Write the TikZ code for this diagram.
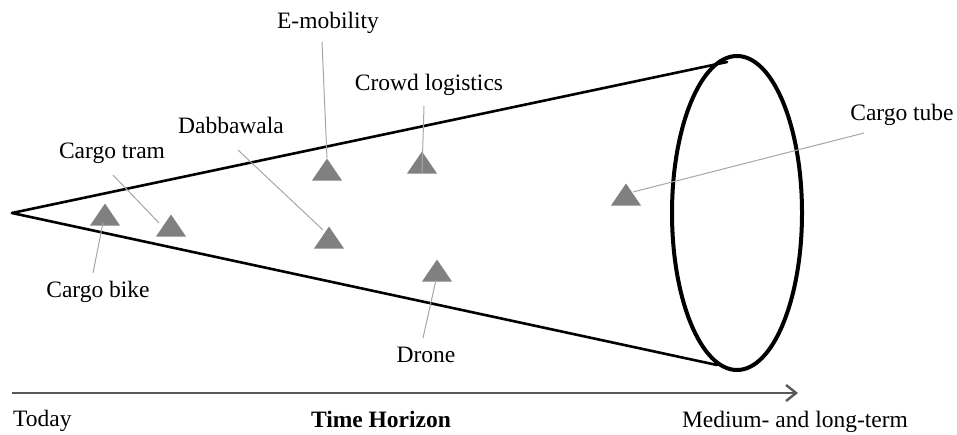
\documentclass[tikz,border=0pt]{standalone}
\usepackage{fontspec}
\setmainfont{Liberation Serif}
\usepackage{tikz}
\usetikzlibrary{arrows.meta, shapes.geometric}
\definecolor{techgray}{HTML}{808080}
\definecolor{leadgray}{HTML}{A6A6A6}
\definecolor{axisgray}{HTML}{595959}

\begin{document}
\begin{tikzpicture}[x=1pt, y=-1pt,
    lbl/.style={font=\fontsize{23.5}{28}\selectfont, inner sep=0pt, anchor=base},
    tech/.style={isosceles triangle, isosceles triangle stretches, shape border rotate=90,
        minimum width=30pt, minimum height=22pt, inner sep=0pt, fill=techgray, draw=none, anchor=apex},
    leader/.style={draw=leadgray, line width=1pt},
    cone/.style={line width=2.6pt, line cap=round, line join=round}]
    \useasboundingbox (0,0) rectangle (957,434);
    % Cone of innovations
    \coordinate (tip) at (12,213);
    \draw[cone] (tip) -- (727,62);
    \draw[cone] (tip) -- (717,365);
    \draw[cone, line width=4pt] (737,213) ellipse [x radius=65pt, y radius=157pt];
    % Triangles (placed by their apex)
    \foreach \n/\x/\y in {biketri/105/203, tramtri/171/214, dabbatri/329/226, emobtri/327/158,
        crowdtri/422/151, tubetri/626/183, dronetri/437/259} {
        \node[tech] (\n) at (\x,\y) {};
    }
    % Labels
    \node[lbl] (emob) at (328,28) {E-mobility};
    \node[lbl] (crowd) at (429,90) {Crowd logistics};
    \node[lbl] (dabba) at (231,133) {Dabbawala};
    \node[lbl] (tram) at (112,158) {Cargo tram};
    \node[lbl] (bike) at (98,297) {Cargo bike};
    \node[lbl] (drone) at (426,362) {Drone};
    \node[lbl] (tube) at (902,120) {Cargo tube};
    % Leader lines
    \draw[leader] ([shift={(-6,14)}]emob.base) -- (emobtri.apex);
    \draw[leader] ([shift={(-5,16)}]crowd.base) -- (crowdtri.lower side);
    \draw[leader] ([shift={(7,17)}]dabba.base) -- ([shift={(-6,4)}]dabbatri.apex);
    \draw[leader] ([shift={(1,17)}]tram.base) -- ([shift={(-12,9)}]tramtri.apex);
    \draw[leader] ([shift={(-5,-24)}]bike.base) -- ([shift={(-2,-3)}]biketri.lower side);
    \draw[leader] ([shift={(-3,-24)}]drone.base) -- ([shift={(-1,-2)}]dronetri.lower side);
    \draw[leader] ([shift={(-38,13)}]tube.base) -- ([shift={(7,9)}]tubetri.apex);
    % Time axis
    \coordinate (tstart) at (12,393);
    \coordinate (tend) at (798,393);
    \draw[axisgray, line width=2.4pt, -{Straight Barb[length=10pt, width=16pt]}] (tstart) -- (tend);
    \node[lbl, anchor=base west] (today) at (13,426) {Today};
    \node[lbl, font=\fontsize{23.5}{28}\selectfont\bfseries] (horizon) at (381,427) {Time Horizon};
    \node[lbl] (medium) at (795,427) {Medium- and long-term};
\end{tikzpicture}
\end{document}
